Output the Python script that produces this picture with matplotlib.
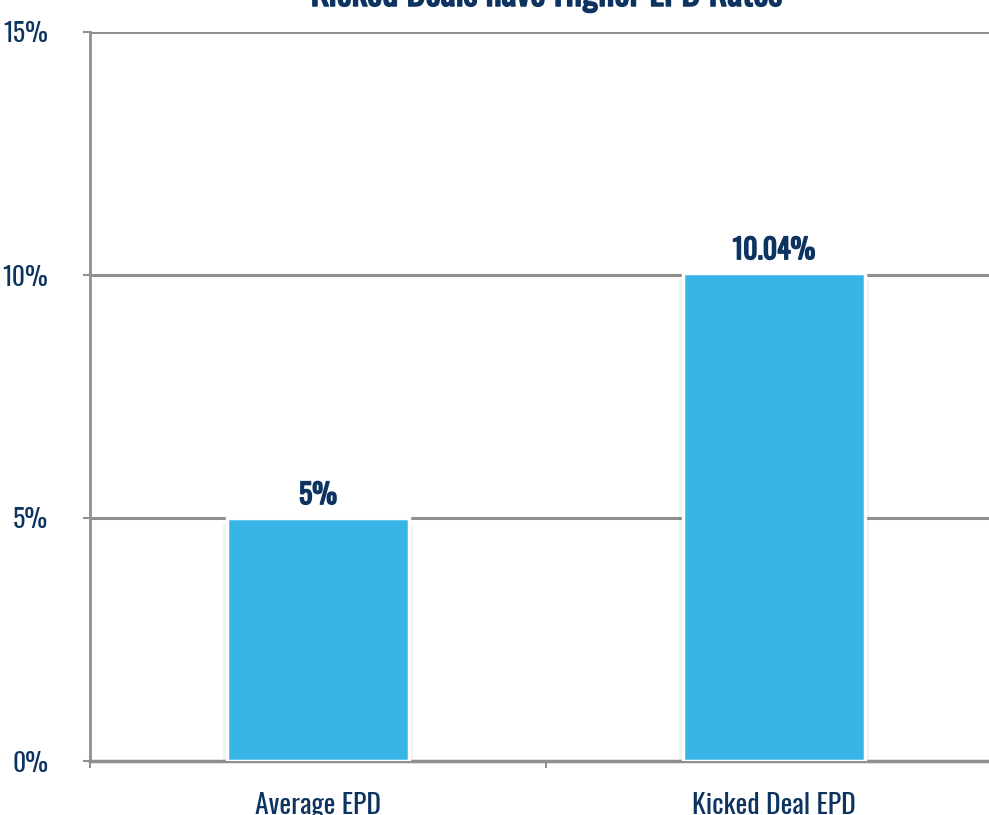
import matplotlib
matplotlib.use("Agg")
import matplotlib.pyplot as plt
import matplotlib.patheffects as pe
from matplotlib.transforms import offset_copy

categories = ["Average EPD", "Kicked Deal EPD"]
values = [5.0, 10.04]
value_labels = ["5%", "10.04%"]
y_ticks = [0, 5, 10, 15]
y_tick_labels = ["0%", "5%", "10%", "15%"]
title = "Kicked Deals have Higher EPD Rates"

fam = ["Oswald", "Barlow Condensed", "DejaVu Sans"]

navy = "#0d3461"
bar_color = "#38b5e7"
grid_gray = "#8f8f8f"

# thickens strokes for the heavier labels (the condensed face is a single weight)
heavy = [pe.withStroke(linewidth=1.1, foreground=navy)]

fig = plt.figure(figsize=(9.89, 8.15), dpi=100)
ax = fig.add_axes([90 / 989, 1 - 761 / 815, 912 / 989, 729 / 815])

x = list(range(len(categories)))
bars = ax.bar(x, values, width=0.4, color=bar_color, edgecolor="white",
              linewidth=2.5, zorder=3)
soft_shadow = [pe.SimplePatchShadow(offset=(dx, dy), shadow_rgbFace="black", alpha=a)
               for dx, dy, a in [(0, -6, 0.05), (-3, -4, 0.05), (3, -4, 0.05),
                                 (0, -3, 0.08), (0, -1, 0.08)]]
for b in bars:
    b.set_path_effects(soft_shadow + [pe.Normal()])

for xi, v, lab in zip(x, values, value_labels):
    ax.annotate(lab, (xi, v), xytext=(0, 10), textcoords="offset points",
                ha="center", va="baseline", fontsize=20, fontweight="bold",
                color=navy, family=fam, path_effects=heavy)

ax.set_xlim(-0.5, 1.5)
ax.set_ylim(0, 15)
ax.set_yticks(y_ticks)
ax.set_yticklabels(y_tick_labels, family=fam, fontsize=18.5, color=navy)
ax.set_xticks([-0.5, 0.5, 1.5])
ax.set_xticklabels([])
ax.set_xticks(x, minor=True)
ax.set_xticklabels(categories, minor=True, family=fam, fontsize=20, color=navy)
ax.tick_params(axis="x", which="minor", length=0, pad=22)
ax.tick_params(axis="x", which="major", length=5, width=1.5, color=grid_gray)
ax.tick_params(axis="y", length=5, width=1.5, color=grid_gray, pad=25)

ax.grid(axis="y", color=grid_gray, linewidth=2.2, zorder=0)
for s in ["top", "right"]:
    ax.spines[s].set_visible(False)
ax.spines["left"].set_color(grid_gray)
ax.spines["left"].set_linewidth(2)
ax.spines["bottom"].set_color(grid_gray)
ax.spines["bottom"].set_linewidth(2.5)

# title baseline sits just under the top edge of the figure
title_tr = offset_copy(ax.transAxes, fig=fig, x=0, y=26, units="dots")
ax.text(0.5, 1.0, title, transform=title_tr, ha="center", va="baseline",
        family=fam, fontsize=26, fontweight="bold", color=navy, path_effects=heavy)

fig.savefig("out.png", dpi=100)
